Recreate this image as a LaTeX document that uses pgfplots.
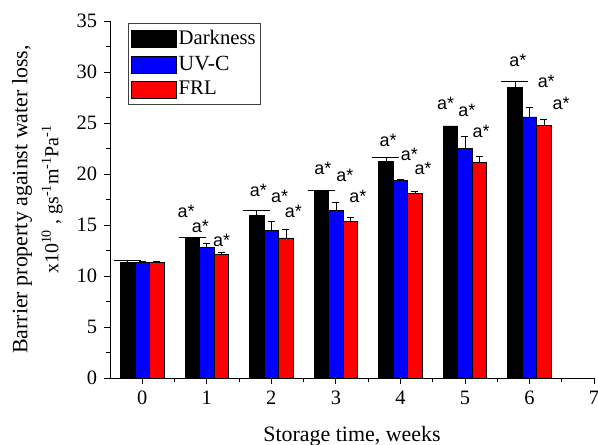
\documentclass[border=0pt]{standalone}
\usepackage{fontspec}
\setmainfont{Liberation Serif}
\newfontfamily\arialf{Liberation Sans}
\usepackage{graphicx}
\usepackage{pgfplots}
\usepackage{pgfplotstable}
\pgfplotsset{compat=1.18}
\pgfplotstableread{
x  dk    dke   uv    uve   fr    fre
0  11.30 0.20  11.30 0.15  11.30 0.15
1  13.73 0.05  12.80 0.40  12.12 0.18
2  15.98 0.50  14.50 0.90  13.73 0.80
3  18.30 0.05  16.40 0.80  15.33 0.40
4  21.27 0.37  19.35 0.15  18.07 0.20
5  24.72 0.00  22.50 1.15  21.15 0.55
6  28.46 0.60  25.60 0.90  24.80 0.56
}\datatab
\pgfplotstableread{
x  dk    dke
0  11.30 0.20
1  13.73 0.05
2  15.98 0.50
3  18.30 0.05
4  21.27 0.37
6  28.46 0.60
}\darkerr
\begin{document}
\fontsize{20}{23}\selectfont
\begin{tikzpicture}
\path[use as bounding box] (-110bp,-67bp) rectangle (488bp,378bp);
\begin{axis}[
  at={(0,0)}, anchor=south west,
  scale only axis, width=484bp, height=357bp,
  xmin=-0.5, xmax=7, ymin=0, ymax=35,
  axis x line*=bottom, axis y line*=left,
  xtick={0,...,7}, ytick={0,5,...,35},
  minor x tick num=1, minor y tick num=1,
  tick align=outside,
  major tick length=6bp, minor tick length=3.5bp,
  tick style={black, line width=0.8pt},
  axis line style={black, line width=0.8pt},
  /pgf/number format/assume math mode=true,
  ticklabel style={font=\fontsize{20.5}{23}\selectfont},
  xlabel={Storage time, weeks},
  xlabel style={at={(axis description cs:0.5,-0.163)}, anchor=center, font=\fontsize{22}{25}\selectfont},
  ylabel={Barrier property against water loss,\\[6bp] {\fontsize{20}{23}\selectfont x10\textsuperscript{10} , gs\textsuperscript{-1}m\textsuperscript{-1}Pa\textsuperscript{-1}}},
  ylabel style={at={(axis description cs:-0.150,0.5)}, anchor=center, align=center, font=\fontsize{22}{25}\selectfont},
  legend style={at={(axis description cs:0.037,0.994)}, anchor=north west, draw=black!75, line width=0.6pt,
    font=\fontsize{20.8}{23}\selectfont, inner xsep=3bp, inner ysep=5bp, row sep=4bp},
  legend cell align=left,
  legend image code/.code={\draw[#1, line width=0.5pt] (0bp,-8.5bp) rectangle (45bp,8.5bp);},
  errA/.style={draw=none, mark=none, forget plot,
    error bars/.cd, y dir=plus, y explicit, error mark=|,
    error bar style={black, line width=0.7pt},
    error mark options={black, mark size=#1, line width=0.7pt}},
]
\addplot[ybar, bar width=0.225, bar shift=-0.225, fill=black, draw=black, line width=0.5pt]
  table[x=x, y=dk] {\datatab};
\addlegendentry{\resizebox{77bp}{!}{Darkness}}
\addplot[ybar, bar width=0.225, bar shift=0, fill=blue, draw=black, line width=0.5pt]
  table[x=x, y=uv] {\datatab};
\addlegendentry{\resizebox{50.8bp}{!}{UV-C}}
\addplot[ybar, bar width=0.225, bar shift=0.225, fill=red, draw=black, line width=0.5pt]
  table[x=x, y=fr] {\datatab};
\addlegendentry{\resizebox{38.1bp}{!}{FRL}}
\addplot[errA=13.5bp] table[x expr=\thisrow{x}-0.225, y=dk, y error=dke] {\darkerr};
\addplot[errA=3.5bp] table[x=x, y=uv, y error=uve] {\datatab};
\addplot[errA=3.5bp] table[x expr=\thisrow{x}+0.225, y=fr, y error=fre] {\datatab};
\begin{scope}[every node/.style={font=\arialf\fontsize{18}{20}\selectfont, inner sep=0pt}]
\node at (axis cs:0.68,16.3) {a*};
\node at (axis cs:0.90,14.85) {a*};
\node at (axis cs:1.23,13.46) {a*};
\node at (axis cs:1.80,18.43) {a*};
\node at (axis cs:2.13,17.79) {a*};
\node at (axis cs:2.34,16.3) {a*};
\node at (axis cs:2.80,20.55) {a*};
\node at (axis cs:3.14,19.9) {a*};
\node at (axis cs:3.34,17.78) {a*};
\node at (axis cs:3.81,23.33) {a*};
\node at (axis cs:4.14,21.96) {a*};
\node at (axis cs:4.35,20.55) {a*};
\node at (axis cs:4.70,26.93) {a*};
\node at (axis cs:5.03,26.27) {a*};
\node at (axis cs:5.25,24.2) {a*};
\node at (axis cs:5.82,31.18) {a*};
\node at (axis cs:6.26,29.05) {a*};
\node at (axis cs:6.49,26.93) {a*};
\end{scope}
\end{axis}
\end{tikzpicture}
\end{document}
